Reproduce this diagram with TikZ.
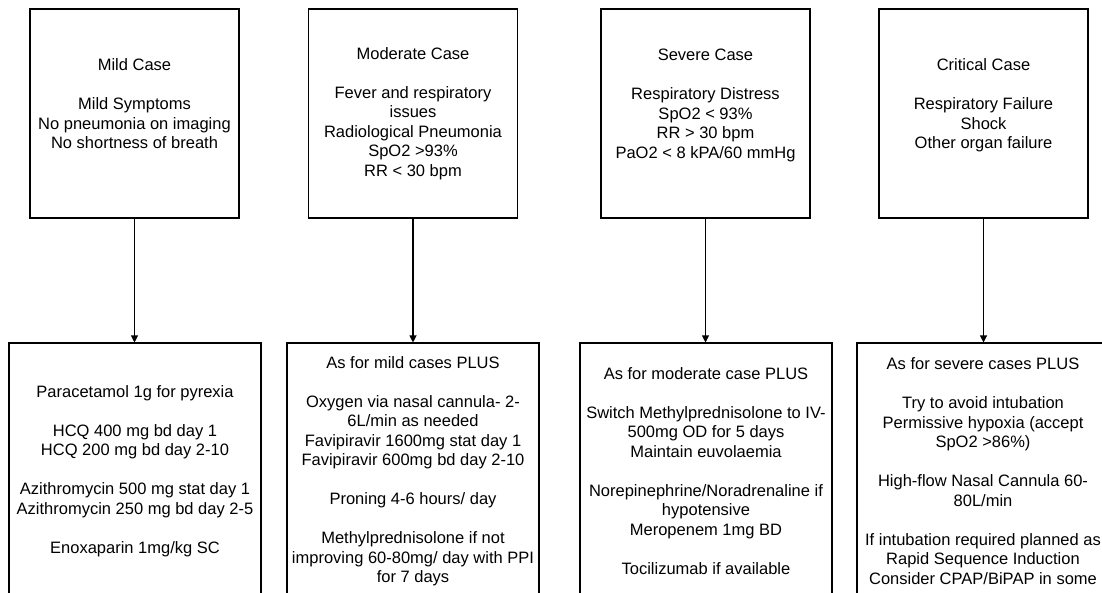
\documentclass[tikz,border=0pt]{standalone}
\usepackage{fontspec}
\setmainfont{Liberation Sans}
\usetikzlibrary{arrows.meta,positioning}
\tikzset{>={Triangle[width=7pt,length=7pt]}}
\tikzset{casebox/.style={rectangle,draw=black,line width=1.1pt,align=center,inner sep=0pt,
  minimum width=209pt,minimum height=209pt,font=\fontsize{16.5}{19.5}\selectfont}}
\tikzset{treatbox/.style={casebox,minimum width=252pt,minimum height=256pt}}

\begin{document}
\begin{tikzpicture}[x=1pt,y=-1pt]
% \draw[help lines] (0,0) grid (1102,592);
\useasboundingbox (0,0) rectangle (1102,592);
\clip (0,0) rectangle (1102,592);
\node (c1) [casebox] at (134.5,113.5) {Mild Case\\[19.5pt]Mild Symptoms\\No pneumonia on imaging\\No shortness of breath\\ \mbox{}};
\node (c2) [casebox] at (413,113.5) {Moderate Case\\[19.5pt]Fever and respiratory\\issues\\Radiological Pneumonia\\SpO2 >93\%\\RR < 30 bpm};
\node (c3) [casebox] at (705.5,113.5) {Severe Case\\[19.5pt]Respiratory Distress\\SpO2 < 93\%\\RR > 30 bpm\\PaO2 < 8 kPA/60 mmHg\\ \mbox{}};
\node (c4) [casebox] at (983.5,113.5) {Critical Case\\[19.5pt]Respiratory Failure\\Shock\\Other organ failure\\ \mbox{}};
%
\node (t1) [treatbox] at (135,471) {Paracetamol 1g for pyrexia\\[19.5pt]HCQ 400 mg bd day 1\\HCQ 200 mg bd day 2-10\\[19.5pt]Azithromycin 500 mg stat day 1\\Azithromycin 250 mg bd day 2-5\\[19.5pt]Enoxaparin 1mg/kg SC};
\node (t2) [treatbox] at (413,471) {As for mild cases PLUS\\[19.5pt]Oxygen via nasal cannula- 2-\\6L/min as needed\\Favipiravir 1600mg stat day 1\\Favipiravir 600mg bd day 2-10\\[19.5pt]Proning 4-6 hours/ day\\[19.5pt]Methylprednisolone if not\\improving 60-80mg/ day with PPI\\for 7 days};
\node (t3) [treatbox] at (706,471) {As for moderate case PLUS\\[19.5pt]Switch Methylprednisolone to IV-\\500mg OD for 5 days\\Maintain euvolaemia\\[19.5pt]Norepinephrine/Noradrenaline if\\hypotensive\\Meropenem 1mg BD\\[19.5pt]Tocilizumab if available};
\node (t4) [treatbox] at (983,471) {As for severe cases PLUS\\[19.5pt]Try to avoid intubation\\Permissive hypoxia (accept\\SpO2 >86\%)\\[19.5pt]High-flow Nasal Cannula 60-\\80L/min\\[19.5pt]If intubation required planned as\\Rapid Sequence Induction\\Consider CPAP/BiPAP in some};
%
\foreach \i in {1,...,4}
  \draw[->,line width=1.1pt] (c\i.south) -- (c\i.south |- t\i.north);
\end{tikzpicture}
\end{document}
